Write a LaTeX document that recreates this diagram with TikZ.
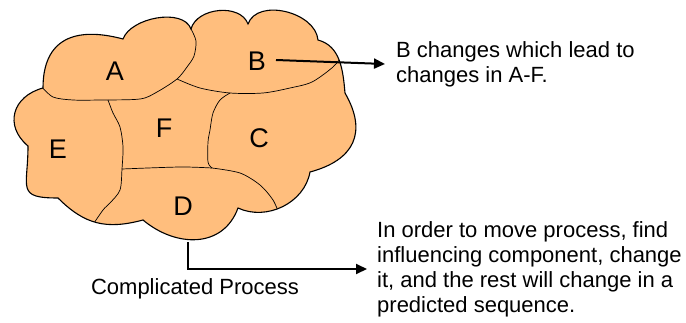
\documentclass[tikz,border=0pt]{standalone}
\usepackage{fontspec}
\setmainfont{Liberation Sans}
\usetikzlibrary{arrows.meta}
\definecolor{cloudfill}{RGB}{255,190,125}
\tikzset{
  lbl/.style={inner sep=0pt, font=\fontsize{27}{30}\selectfont},
  txt/.style={inner sep=0pt, align=left, font=\fontsize{22}{25}\selectfont},
  arr/.style={line width=2pt, -{Triangle[length=11pt,width=10pt]}},
  edge/.style={line width=1.1pt},
  border/.style={line width=0.7pt}
}
% outline of the cloud, one bump after the other
\def\cloudpath{(43,234)
  to[out=90,in=165,looseness=1.35] (123,283)
  to[out=70,in=110,looseness=0.85] (191,293)
  to[out=75,in=110] (248,298)
  to[out=70,in=95] (318,282)
  to[out=-15,in=95] (345,229)
  to[out=-60,in=15,looseness=1.35] (310,150)
  to[out=-100,in=-25] (238,114)
  to[out=-110,in=-40,looseness=1.15] (143,102)
  to[out=-165,in=-45,looseness=1.1] (58,124)
  to[out=180,in=-90,looseness=1.8] (28,176)
  to[out=140,in=-165,looseness=1.35] (43,234) -- cycle}
\begin{document}
\begin{tikzpicture}[x=1pt,y=1pt]
  \useasboundingbox (0,0) rectangle (686,322);
  \fill[cloudfill] \cloudpath;
  \begin{scope}
    \clip \cloudpath;
    % A
    \draw[border] plot[smooth] coordinates {(191,293) (196,281) (194,266) (187,255) (177,243) (157,230) (140,223) (100,222) (73,222) (53,225) (41,236)};
    % B
    \draw[border] plot[smooth] coordinates {(177,243) (200,234) (230,229) (263,229) (290,234) (312,240) (333,255) (342,266)};
    % C / F
    \draw[border] plot[smooth] coordinates {(230,229) (220,222) (213,209) (210,192) (208,180) (208,160) (212,154)};
    % F / D
    \draw[border] plot[smooth] coordinates {(122,153) (180,155) (212,154)};
    % D / C
    \draw[border] plot[smooth] coordinates {(212,154) (240,149) (260,137) (273,122) (280,106)};
    % E / F
    \draw[border] plot[smooth] coordinates {(108,222) (113,209) (120,195) (123,175) (122,153) (120,132) (110,119) (103,112) (90,93)};
  \end{scope}
  \draw[edge] \cloudpath;
  \node[lbl] (A) at (115,251) {A};
  \node[lbl] (B) at (257,261) {B};
  \node[lbl] (F) at (164,194) {F};
  \node[lbl] (C) at (259,184) {C};
  \node[lbl] (E) at (58,173) {E};
  \node[lbl] (D) at (183,116) {D};
  \node[txt] (cap) at (195,33) {Complicated Process};
  \node[txt, anchor=west] (bnote) at (396,258) {B changes which lead to\\changes in A-F.};
  \node[txt, anchor=west] (dnote) at (377,53) {In order to move process, find\\influencing component, change\\it, and the rest will change in a\\predicted sequence.};
  \coordinate (bstart) at (276,262);
  \coordinate (dstart) at (188,80);
  \draw[arr] (bstart) -- ([xshift=-11pt]bnote.west);
  \draw[arr] (dstart) |- ([xshift=-10pt]dnote.west);
\end{tikzpicture}
\end{document}
